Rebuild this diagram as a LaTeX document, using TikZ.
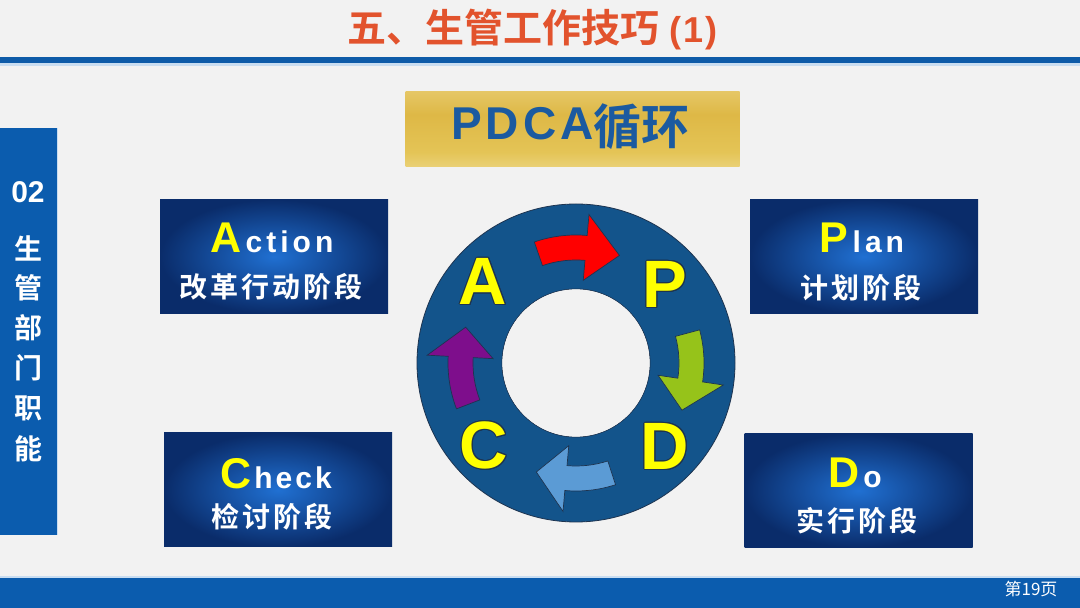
\documentclass[tikz,border=0pt]{standalone}
\usepackage{fontspec}
\usepackage{contour}
\contourlength{0.9pt}
\newfontfamily\cjk[BoldFont={Noto Sans CJK SC Bold}]{Noto Sans CJK SC}
\newfontfamily\lat{Liberation Sans}
\usetikzlibrary{shadings}
\definecolor{bg}{HTML}{F2F2F2}
\definecolor{titlecol}{HTML}{E2532D}
\definecolor{lineblue}{HTML}{0E5BA8}
\definecolor{lightline}{HTML}{C9DDF1}
\definecolor{barblue}{HTML}{0B5CAE}
\definecolor{ringblue}{HTML}{13548B}
\definecolor{ringedge}{HTML}{1E3450}
\definecolor{pdcablue}{HTML}{1B5AA0}
\definecolor{boxin}{HTML}{2070D2}
\definecolor{boxout}{HTML}{0A2C6A}
\definecolor{letteryellow}{HTML}{FFFF00}
\definecolor{arrred}{HTML}{FF0000}
\definecolor{arrgreen}{HTML}{96C31A}
\definecolor{arrblue}{HTML}{5B9BD5}
\definecolor{arrpurple}{HTML}{7E0E8C}
\definecolor{golda}{HTML}{D9BA5C}
\definecolor{goldb}{HTML}{F2E2A2}
\definecolor{goldc}{HTML}{E4C456}
\definecolor{goldd}{HTML}{DEB846}
\definecolor{golde}{HTML}{EAD07A}
\definecolor{goldf}{HTML}{F0DC96}
\pgfdeclareverticalshading{goldsh}{100bp}{color(0bp)=(golda); color(12bp)=(goldb);
  color(35bp)=(goldc); color(60bp)=(goldd); color(85bp)=(golde); color(100bp)=(goldf)}
\newcommand\cgap{\kern3pt}
\newcommand\lgap{\kern4pt}
\newcommand\cwarrow[4]{%
  \filldraw[arrowline, fill=#4]
    ([shift={(#1:128)}]ctr) arc[start angle=#1, end angle=#2, radius=128]
    -- ([shift={(#2:149)}]ctr) -- ([shift={(#3:116)}]ctr)
    -- ([shift={(#2:83)}]ctr) -- ([shift={(#2:103)}]ctr)
    arc[start angle=#2, end angle=#1, radius=103] -- cycle;}
\begin{document}
\begin{tikzpicture}[x=1pt,y=1pt,
  bluebox/.style={rectangle, inner sep=0, minimum width=228pt, minimum height=114pt,
    inner color=boxin, outer color=boxout},
  latline/.style={anchor=base, inner sep=0, text=white, font=\lat\bfseries\fontsize{30}{30}\selectfont},
  cjkline/.style={inner sep=0, text=white, font=\cjk\bfseries\fontsize{28}{28}\selectfont},
  sidetext/.style={inner sep=0, text=white, font=\cjk\bfseries\fontsize{28}{28}\selectfont},
  ringletter/.style={inner sep=0, text=letteryellow, font=\lat\bfseries\fontsize{67}{67}\selectfont},
  arrowline/.style={draw=ringedge, line width=0.7pt, line join=miter}]
\useasboundingbox (0,0) rectangle (1080,608);
\fill[bg] (0,0) rectangle (1080,608);
% title
\node[anchor=west, inner sep=0, text=titlecol] (title) at (347,578)
  {\cjk\bfseries\fontsize{39}{39}\selectfont 五、生管工作技巧\kern10pt{\lat\bfseries\fontsize{36}{36}\selectfont (\kern2pt 1\kern2pt)}};
\fill[lightline] (0,542) rectangle (1080,545);
\fill[lineblue] (0,545) rectangle (1080,551);
% gold banner
\node[rectangle, inner sep=0, minimum width=334pt, minimum height=75pt,
  shading=goldsh] (gold) at (572.5,478.5) {};
\node[anchor=base west, inner sep=0, text=pdcablue] (pdcaL) at (451,468)
  {\lat\bfseries\fontsize{46}{46}\selectfont P\kern4pt D\kern4pt C\kern4pt A};
\node[anchor=base west, inner sep=0, text=pdcablue] (pdcaC) at (593,463)
  {\cjk\bfseries\fontsize{48}{48}\selectfont 循环};
% sidebar
\fill[barblue] (0,73) rectangle (57,480);
\draw[lightline, line width=1pt] (57.5,73) -- (57.5,480);
\node[inner sep=0, text=white, font=\lat\bfseries\fontsize{30}{30}\selectfont] (s0) at (28,416) {02};
\node[sidetext] (s1) at (28,360) {生};
\node[sidetext] (s2) at (28,320) {管};
\node[sidetext] (s3) at (28,280) {部};
\node[sidetext] (s4) at (28,240) {门};
\node[sidetext] (s5) at (28,200) {职};
\node[sidetext] (s6) at (28,159) {能};
% bottom bar
\fill[lightline] (0,30) rectangle (1080,32);
\fill[barblue] (0,0) rectangle (1080,30);
\node[inner sep=0, text=white, font=\cjk\fontsize{17}{17}\selectfont] (page) at (1031,19) {第19页};
% boxes
\node[bluebox] (action) at (274,351.5) {};
\node[bluebox] (plan) at (864,351.5) {};
\node[bluebox] (check) at (278,118) {};
\node[bluebox] (do) at (858.5,117.5) {};
\node[latline] (actionL) at (272,355) {{\color{letteryellow}\fontsize{43}{43}\selectfont A}\lgap c\lgap t\lgap i\lgap o\lgap n};
\node[cjkline] (actionC) at (271,321) {改\cgap 革\cgap 行\cgap 动\cgap 阶\cgap 段};
\node[latline] (planL) at (862,355) {{\color{letteryellow}\fontsize{43}{43}\selectfont P}\lgap l\lgap a\lgap n};
\node[cjkline] (planC) at (861,320) {计\cgap 划\cgap 阶\cgap 段};
\node[latline] (checkL) at (276,119) {{\color{letteryellow}\fontsize{43}{43}\selectfont C}\kern3pt h\kern3pt e\kern3pt c\kern3pt k};
\node[cjkline] (checkC) at (272,91) {检\cgap 讨\cgap 阶\cgap 段};
\node[latline] (doL) at (855,120) {{\color{letteryellow}\fontsize{43}{43}\selectfont D}\lgap o};
\node[cjkline] (doC) at (857,87) {实\cgap 行\cgap 阶\cgap 段};
% ring
\coordinate (ctr) at (576,245);
\filldraw[fill=ringblue, draw=ringedge, line width=0.8pt, even odd rule]
  (ctr) circle[radius=159] (ctr) circle[radius=74];
\fill[bg] (ctr) circle[radius=73.6];
\node[ringletter] (A) at (483,326) {\contour{ringedge}{A}};
\node[ringletter] (P) at (665,323) {\contour{ringedge}{P}};
\node[ringletter] (C) at (484,162) {\contour{ringedge}{C}};
\node[ringletter] (D) at (665,161) {\contour{ringedge}{D}};
\cwarrow{109}{85}{68}{arrred}
\cwarrow{15}{-8.5}{-24}{arrgreen}
\cwarrow{-72}{-95}{-110}{arrblue}
\cwarrow{201}{177}{162}{arrpurple}
\end{tikzpicture}
\end{document}
